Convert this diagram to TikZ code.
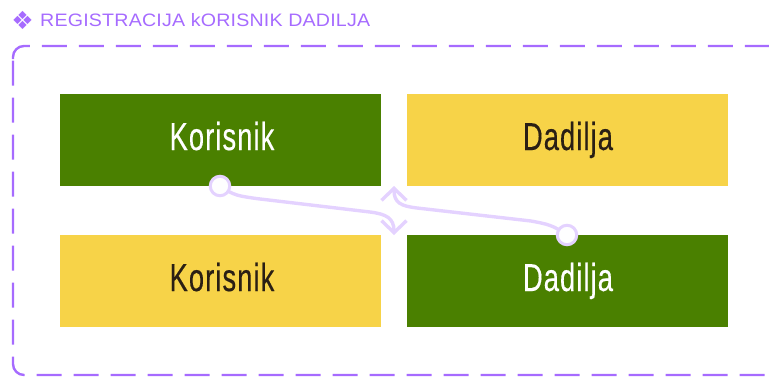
\documentclass[tikz,border=0pt]{standalone}
\usepackage{fontspec}
\setmainfont{Liberation Sans}
\newfontfamily\symfont{DejaVu Sans}
\newfontfamily\titlefont[LetterSpace=1]{Liberation Sans}
\newfontfamily\labelfont[FakeBold=0.4,LetterSpace=4]{Liberation Sans}
\usetikzlibrary{arrows.meta}
\definecolor{purp}{HTML}{A66BFF}
\definecolor{lilac}{HTML}{E4D2FF}
\definecolor{grn}{HTML}{4A8000}
\definecolor{yel}{HTML}{F7D348}
\definecolor{ink}{HTML}{2A1F14}
\tikzset{
  x=1pt,y=-1pt,
  box/.style={minimum width=321pt,minimum height=92pt,inner sep=0pt,outer sep=0pt},
  grnbox/.style={box,fill=grn},
  yelbox/.style={box,fill=yel},
  dot/.style={circle,draw=lilac,fill=white!97!lilac,line width=3pt,minimum size=19.5pt,inner sep=0pt},
  link/.style={draw=lilac,line width=3.4pt,-{Straight Barb[length=12pt,width=25pt,line width=3.4pt]}},
  frame/.style={draw=purp,line width=2.4pt,dash pattern=on 25pt off 12pt,rounded corners=11pt},
  lbl/.style={xscale=0.70,inner sep=0pt,anchor=base,font=\labelfont\fontsize{39}{39}\selectfont}
}
\begin{document}
\begin{tikzpicture}
\useasboundingbox (0,0) rectangle (769,376);
\clip (0,0) rectangle (769,376);
\draw[frame,dash phase=0pt] (13,70) -- (13,46) -- (780,46) -- (780,375) -- (13,375) -- cycle;
\node[text=purp,font=\symfont\fontsize{25}{26}\selectfont,inner sep=0pt] (tsym) at (22.5,20.5) {❖};
\node[text=purp,font=\titlefont\fontsize{18}{19}\selectfont,anchor=west,inner sep=0pt,xscale=1.09] (title) at (40,20.5) {REGISTRACIJA kORISNIK DADILJA};
\node[grnbox] (k1) at (220.5,140) {};
\node[yelbox] (d1) at (567.5,140) {};
\node[yelbox] (k2) at (220.5,281) {};
\node[grnbox] (d2) at (567.5,281) {};
\node[lbl,text=white] (k1t) at (222,150) {Korisnik};
\node[lbl,text=ink] (d1t) at (568,150) {Dadilja};
\node[lbl,text=ink] (k2t) at (222,291) {Korisnik};
\node[lbl,text=white] (d2t) at (568,291) {Dadilja};
\coordinate (a1) at (220,186);
\coordinate (a2) at (394,235);
\coordinate (b1) at (567,235);
\coordinate (b2) at (394,186);
\draw[link] (a1) .. controls (234,196) and (240,196) .. (256,198.5) -- (370,212) .. controls (386,214) and (394,218) .. (a2);
\draw[link] (b1) .. controls (553,225) and (547,224) .. (531,221) -- (417,208) .. controls (401,206) and (394,203) .. (b2);
\node[dot] (p1) at (a1) {};
\node[dot] (p2) at (b1) {};
\end{tikzpicture}
\end{document}
